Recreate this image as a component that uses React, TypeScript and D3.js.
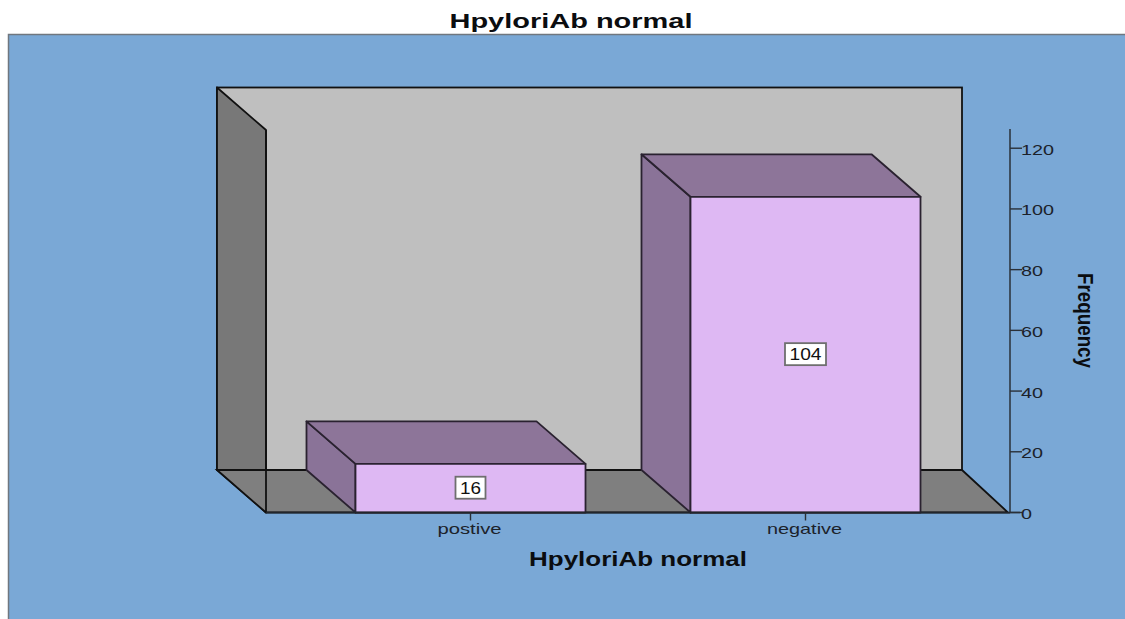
import React from "react";
import * as d3 from "d3";

const categories = ["postive", "negative"];
const frequencies = [16, 104];
const yTicks = [0, 20, 40, 60, 80, 100, 120];
const chartTitle = "HpyloriAb normal";
const xAxisTitle = "HpyloriAb normal";
const yAxisTitle = "Frequency";

const W = 1125, H = 619;
const FONT = "'Liberation Sans', Arial, sans-serif";
const INK = "#14171c";
const y = d3.scaleLinear().domain([0, 126]).range([512.5, 130]);
const x = d3.scaleBand<string>().domain(categories).range([303, 973]).paddingInner(0.3134).paddingOuter(0.1567);
const DX = 49, DY = 42.5;
const floorY = y(0);
const pts = (p: number[][]) => p.map((q) => q.join(",")).join(" ");

function StretchText({ tx, ty, width, size, bold, fill, children, anchor = "middle", rotate }: any) {
  return (
    <text
      x={tx}
      y={ty}
      textLength={width}
      lengthAdjust="spacingAndGlyphs"
      fontSize={size}
      fontWeight={bold ? 700 : 400}
      fontFamily={FONT}
      fill={fill ?? INK}
      textAnchor={anchor}
      transform={rotate ? `rotate(${rotate} ${tx} ${ty})` : undefined}
    >
      {children}
    </text>
  );
}

export default function App() {
  const wallTop = y(126);
  const L = 266, R = 1008;
  return (
    <svg width={W} height={H} style={{ position: "fixed", left: 0, top: 0, background: "#fff" }}>
      <rect x={8} y={34} width={W} height={H - 34} fill="#7aa8d6" />
      <path d={`M8.5 ${H} V34.5 H${W}`} fill="none" stroke="#70777f" strokeWidth={1.5} />
      <StretchText tx={571} ty={28} width={243} size={21} bold fill="#0b0d10">{chartTitle}</StretchText>

      {/* back wall, side wall, floor */}
      <rect x={L - DX} y={wallTop - DY} width={962 - (L - DX)} height={floorY - wallTop} fill="#bfbfbf" stroke="#111" strokeWidth={1.8} />
      <polygon points={pts([[L - DX, wallTop - DY], [L, wallTop], [L, floorY], [L - DX, floorY - DY]])} fill="#787878" stroke="#111" strokeWidth={1.8} strokeLinejoin="round" />
      <polygon points={pts([[L - DX, floorY - DY], [962, floorY - DY], [R, floorY], [L, floorY]])} fill="#7f7f7f" stroke="#111" strokeWidth={1.8} />
      <line x1={L} x2={L} y1={wallTop} y2={floorY} stroke="#111" strokeWidth={1.8} />

      {/* bars */}
      {categories.map((c, i) => {
        const x0 = x(c)!, bw = x.bandwidth(), top = y(frequencies[i]);
        return (
          <g key={c} stroke="#2a2230" strokeWidth={1.8} strokeLinejoin="round">
            <polygon points={pts([[x0 - DX, top - DY], [x0, top], [x0, floorY], [x0 - DX, floorY - DY]])} fill="#8a7398" />
            <polygon points={pts([[x0 - DX, top - DY], [x0 + bw - DX, top - DY], [x0 + bw, top], [x0, top]])} fill="#8d7599" />
            <rect x={x0} y={top} width={bw} height={floorY - top} fill="#deb8f3" />
          </g>
        );
      })}

      {/* value labels */}
      {categories.map((c, i) => {
        const cx = x(c)! + x.bandwidth() / 2, cy = y(frequencies[i] / 2);
        const w = frequencies[i] >= 100 ? 41 : 30;
        return (
          <g key={c + "-label"}>
            <rect x={cx - w / 2} y={cy - 11.5} width={w} height={22} fill="#fff" stroke="#6f6f6f" strokeWidth={1.8} />
            <StretchText tx={cx} ty={cy + 5.5} width={w - 9} size={16} fill="#111">{frequencies[i]}</StretchText>
          </g>
        );
      })}

      {/* floor baseline */}
      <line x1={L} x2={1020} y1={floorY} y2={floorY} stroke="#22262c" strokeWidth={1.6} />

      {/* value axis */}
      <line x1={1010} x2={1010} y1={129} y2={floorY} stroke="#2a3038" strokeWidth={1.5} />
      {yTicks.map((t) => (
        <g key={t}>
          <line x1={1010} x2={1022} y1={y(t)} y2={y(t)} stroke="#2a3038" strokeWidth={1.4} />
          <StretchText tx={1021} ty={y(t) + 6.5} width={t >= 100 ? 33 : t === 0 ? 11 : 22} size={14.5} anchor="start" fill="#1c222a">{t}</StretchText>
        </g>
      ))}

      {/* category axis */}
      {categories.map((c, i) => {
        const cx = x(c)! + x.bandwidth() / 2;
        return (
          <g key={c + "-tick"}>
            <line x1={cx} x2={cx} y1={floorY} y2={floorY + 8} stroke="#2a3038" strokeWidth={1.4} />
            <StretchText tx={cx - 1} ty={534} width={i === 0 ? 64 : 75} size={15} fill="#1c222a">{c}</StretchText>
          </g>
        );
      })}

      <StretchText tx={638} ty={566} width={218} size={20} bold fill="#0b0d10">{xAxisTitle}</StretchText>
      <StretchText tx={1078} ty={320.5} width={95} size={22} bold fill="#0b0d10" rotate={90}>{yAxisTitle}</StretchText>
    </svg>
  );
}
